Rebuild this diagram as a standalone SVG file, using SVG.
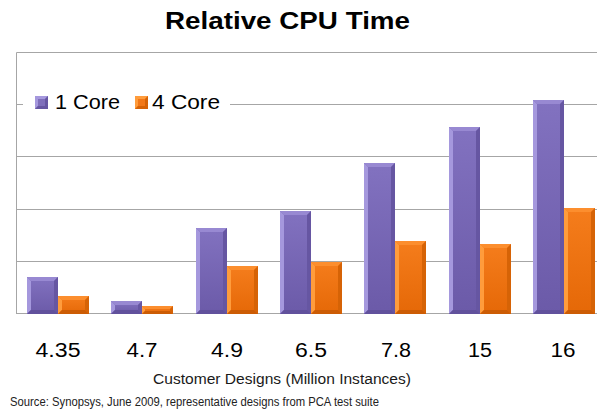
<svg xmlns="http://www.w3.org/2000/svg" width="597" height="417" viewBox="0 0 597 417">
  <defs>
    <linearGradient id="pFace" x1="0" y1="0" x2="0" y2="1">
      <stop offset="0" stop-color="#8272c0"/>
      <stop offset="1" stop-color="#6b5aa8"/>
    </linearGradient>
    <linearGradient id="oFace" x1="0" y1="0" x2="0" y2="1">
      <stop offset="0" stop-color="#f57d1c"/>
      <stop offset="1" stop-color="#e56807"/>
    </linearGradient>
  </defs>
  <style>
    text { font-family: "Liberation Sans", Arial, sans-serif; fill: #000; }
    .title { font-size: 24px; font-weight: bold; }
    .legend { font-size: 21px; }
    .cat { font-size: 20px; text-anchor: middle; }
    .axis-title { font-size: 15.5px; fill: #1a1a1a; }
    .source { font-size: 12.5px; fill: #222; }
    .grid { stroke: #a6a6a6; stroke-width: 1; fill: none; }
    .p-face { fill: url(#pFace); }
    .p-l { fill: #a598dd; }
    .p-t { fill: #9889d2; }
    .p-r { fill: #6656a2; }
    .p-b { fill: #61519c; }
    .o-face { fill: url(#oFace); }
    .o-l { fill: #ff9c3c; }
    .o-t { fill: #fc8e2e; }
    .o-r { fill: #d66306; }
    .o-b { fill: #cc5c04; }
  </style>

  <rect width="597" height="417" fill="#fff"/>

  <text class="title" x="165" y="29" textLength="245" lengthAdjust="spacingAndGlyphs">Relative CPU Time</text>

  <!-- plot frame and gridlines -->
  <g id="gridlines">
    <path class="grid" d="M16.5 52.5H597M16.5 104.5H597M16.5 156.5H597M16.5 209.5H597M16.5 261.5H597M16.5 313.5H597M16.5 52.5V314"/>
  </g>

  <!-- legend -->
  <g id="legend">
    <rect x="23" y="90" width="207" height="26" fill="#fff"/>
    <rect x="35" y="96" width="13" height="13" fill="#7f6fbb"/>
    <path d="M35 96h13l-3 3h-7zM35 96v13l3-3v-7z" fill="#a598dd"/>
    <path d="M48 96v13h-13l3-3h7v-7z" fill="#6656a2"/>
    <text class="legend" x="55" y="109" textLength="65" lengthAdjust="spacingAndGlyphs">1 Core</text>
    <rect x="135" y="96" width="13" height="13" fill="#f27818"/>
    <path d="M135 96h13l-3 3h-7zM135 96v13l3-3v-7z" fill="#ff9c3c"/>
    <path d="M148 96v13h-13l3-3h7v-7z" fill="#d66306"/>
    <text class="legend" x="152" y="109" textLength="68" lengthAdjust="spacingAndGlyphs">4 Core</text>
  </g>

  <!-- 1 Core series -->
  <g id="series-1core">
    <g id="p1"><rect class="p-face" x="27" y="277" width="31" height="37"/>
      <polygon class="p-l" points="27,277 31,281 31,310 27,314"/><polygon class="p-t" points="27,277 58,277 54,281 31,281"/>
      <polygon class="p-r" points="58,277 58,314 54,310 54,281"/><polygon class="p-b" points="27,314 58,314 54,310 31,310"/></g>
    <g id="p2"><rect class="p-face" x="111" y="301" width="31" height="13"/>
      <polygon class="p-l" points="111,301 115,305 115,310 111,314"/><polygon class="p-t" points="111,301 142,301 138,305 115,305"/>
      <polygon class="p-r" points="142,301 142,314 138,310 138,305"/><polygon class="p-b" points="111,314 142,314 138,310 115,310"/></g>
    <g id="p3"><rect class="p-face" x="196" y="228" width="31" height="86"/>
      <polygon class="p-l" points="196,228 200,232 200,310 196,314"/><polygon class="p-t" points="196,228 227,228 223,232 200,232"/>
      <polygon class="p-r" points="227,228 227,314 223,310 223,232"/><polygon class="p-b" points="196,314 227,314 223,310 200,310"/></g>
    <g id="p4"><rect class="p-face" x="280" y="211" width="31" height="103"/>
      <polygon class="p-l" points="280,211 284,215 284,310 280,314"/><polygon class="p-t" points="280,211 311,211 307,215 284,215"/>
      <polygon class="p-r" points="311,211 311,314 307,310 307,215"/><polygon class="p-b" points="280,314 311,314 307,310 284,310"/></g>
    <g id="p5"><rect class="p-face" x="364" y="163" width="31" height="151"/>
      <polygon class="p-l" points="364,163 368,167 368,310 364,314"/><polygon class="p-t" points="364,163 395,163 391,167 368,167"/>
      <polygon class="p-r" points="395,163 395,314 391,310 391,167"/><polygon class="p-b" points="364,314 395,314 391,310 368,310"/></g>
    <g id="p6"><rect class="p-face" x="449" y="127" width="31" height="187"/>
      <polygon class="p-l" points="449,127 453,131 453,310 449,314"/><polygon class="p-t" points="449,127 480,127 476,131 453,131"/>
      <polygon class="p-r" points="480,127 480,314 476,310 476,131"/><polygon class="p-b" points="449,314 480,314 476,310 453,310"/></g>
    <g id="p7"><rect class="p-face" x="533" y="100" width="31" height="214"/>
      <polygon class="p-l" points="533,100 537,104 537,310 533,314"/><polygon class="p-t" points="533,100 564,100 560,104 537,104"/>
      <polygon class="p-r" points="564,100 564,314 560,310 560,104"/><polygon class="p-b" points="533,314 564,314 560,310 537,310"/></g>
  </g>

  <!-- 4 Core series -->
  <g id="series-4core">
    <g id="o1"><rect class="o-face" x="58" y="296" width="31" height="18"/>
      <polygon class="o-l" points="58,296 62,300 62,310 58,314"/><polygon class="o-t" points="58,296 89,296 85,300 62,300"/>
      <polygon class="o-r" points="89,296 89,314 85,310 85,300"/><polygon class="o-b" points="58,314 89,314 85,310 62,310"/></g>
    <g id="o2"><rect class="o-face" x="142" y="306" width="31" height="8"/>
      <polygon class="o-l" points="142,306 145,309 145,311 142,314"/><polygon class="o-t" points="142,306 173,306 170,309 145,309"/>
      <polygon class="o-r" points="173,306 173,314 170,311 170,309"/><polygon class="o-b" points="142,314 173,314 170,311 145,311"/></g>
    <g id="o3"><rect class="o-face" x="227" y="266" width="31" height="48"/>
      <polygon class="o-l" points="227,266 231,270 231,310 227,314"/><polygon class="o-t" points="227,266 258,266 254,270 231,270"/>
      <polygon class="o-r" points="258,266 258,314 254,310 254,270"/><polygon class="o-b" points="227,314 258,314 254,310 231,310"/></g>
    <g id="o4"><rect class="o-face" x="311" y="262" width="31" height="52"/>
      <polygon class="o-l" points="311,262 315,266 315,310 311,314"/><polygon class="o-t" points="311,262 342,262 338,266 315,266"/>
      <polygon class="o-r" points="342,262 342,314 338,310 338,266"/><polygon class="o-b" points="311,314 342,314 338,310 315,310"/></g>
    <g id="o5"><rect class="o-face" x="395" y="241" width="31" height="73"/>
      <polygon class="o-l" points="395,241 399,245 399,310 395,314"/><polygon class="o-t" points="395,241 426,241 422,245 399,245"/>
      <polygon class="o-r" points="426,241 426,314 422,310 422,245"/><polygon class="o-b" points="395,314 426,314 422,310 399,310"/></g>
    <g id="o6"><rect class="o-face" x="480" y="244" width="31" height="70"/>
      <polygon class="o-l" points="480,244 484,248 484,310 480,314"/><polygon class="o-t" points="480,244 511,244 507,248 484,248"/>
      <polygon class="o-r" points="511,244 511,314 507,310 507,248"/><polygon class="o-b" points="480,314 511,314 507,310 484,310"/></g>
    <g id="o7"><rect class="o-face" x="564" y="208" width="31" height="106"/>
      <polygon class="o-l" points="564,208 568,212 568,310 564,314"/><polygon class="o-t" points="564,208 595,208 591,212 568,212"/>
      <polygon class="o-r" points="595,208 595,314 591,310 591,212"/><polygon class="o-b" points="564,314 595,314 591,310 568,310"/></g>
  </g>

  <!-- category labels -->
  <g id="categories">
    <text class="cat" x="58" y="357" textLength="45" lengthAdjust="spacingAndGlyphs">4.35</text>
    <text class="cat" x="142" y="357" textLength="31" lengthAdjust="spacingAndGlyphs">4.7</text>
    <text class="cat" x="227" y="357" textLength="32" lengthAdjust="spacingAndGlyphs">4.9</text>
    <text class="cat" x="311" y="357" textLength="32" lengthAdjust="spacingAndGlyphs">6.5</text>
    <text class="cat" x="396" y="357" textLength="30" lengthAdjust="spacingAndGlyphs">7.8</text>
    <text class="cat" x="480" y="357" textLength="24" lengthAdjust="spacingAndGlyphs">15</text>
    <text class="cat" x="563" y="357" textLength="25" lengthAdjust="spacingAndGlyphs">16</text>
  </g>

  <text class="axis-title" x="153" y="384" textLength="258" lengthAdjust="spacingAndGlyphs">Customer Designs (Million Instances)</text>
  <text class="source" x="10" y="406" textLength="369" lengthAdjust="spacingAndGlyphs">Source: Synopsys, June 2009, representative designs from PCA test suite</text>
</svg>
